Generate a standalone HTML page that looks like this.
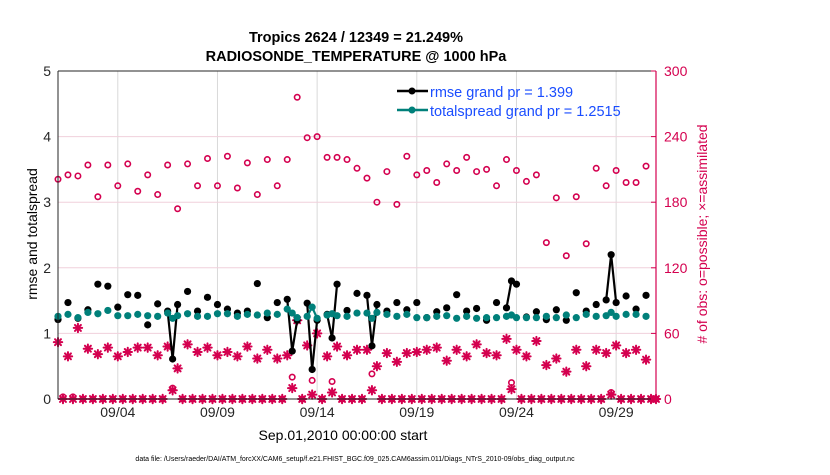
<!DOCTYPE html>
<html><head><meta charset="utf-8"><style>
body{margin:0;background:#fff;}
svg{font-family:"Liberation Sans",Arial,sans-serif;}
</style></head><body>
<svg id="chart" width="830" height="470" viewBox="0 0 830 470" xmlns="http://www.w3.org/2000/svg">
<text x="356" y="42" text-anchor="middle" font-size="14.5" font-weight="bold">Tropics 2624 / 12349 = 21.249%</text>
<text x="356" y="61" text-anchor="middle" font-size="14.5" font-weight="bold">RADIOSONDE_TEMPERATURE @ 1000 hPa</text>
<g id="grid"></g>
<g id="marks"></g>
<g id="axes"></g>
<text transform="translate(37,234) rotate(-90)" text-anchor="middle" font-size="14">rmse and totalspread</text>
<text transform="translate(707,234) rotate(-90)" text-anchor="middle" font-size="14" fill="#d4004f"># of obs: o=possible; ×=assimilated</text>
<text x="343" y="440" text-anchor="middle" font-size="14">Sep.01,2010 00:00:00 start</text>
<text x="355" y="461" text-anchor="middle" font-size="7">data file: /Users/raeder/DAI/ATM_forcXX/CAM6_setup/f.e21.FHIST_BGC.f09_025.CAM6assim.011/Diags_NTrS_2010-09/obs_diag_output.nc</text>
<g>
<line x1="397" y1="91" x2="428" y2="91" stroke="#000" stroke-width="2.5"/>
<circle cx="412" cy="91" r="3.5" fill="#000"/>
<text x="430" y="97" font-size="14.5" fill="#1a4dff">rmse grand pr = 1.399</text>
<line x1="397" y1="110" x2="428" y2="110" stroke="#00807a" stroke-width="2.5"/>
<circle cx="412" cy="110" r="3.5" fill="#00807a"/>
<text x="430" y="116" font-size="14.5" fill="#1a4dff">totalspread grand pr = 1.2515</text>
</g>
</svg>
<script>
// main analysis times (every 12h, days since Sep 01 00Z)
const mainRmse = [1.21,1.47,1.23,1.36,1.75,1.72,1.40,1.59,1.58,1.13,1.45,1.34,
 1.44,1.64,1.34,1.55,1.44,1.37,1.31,1.34,1.76,1.24,1.47,1.52,
 1.20,1.46,1.20,1.29,1.75,1.35,
 1.61,1.58,1.44,1.34,1.47,1.36,1.47,1.24,1.33,1.39,1.59,1.34,1.38,1.20,1.47,1.39,1.75,1.25,1.33,1.21,1.36,1.20,1.62,1.34,1.44,1.51,1.47,1.57,1.37,1.58];
const mainSpread = [1.26,1.29,1.24,1.32,1.30,1.35,1.27,1.27,1.29,1.27,1.26,1.31,
 1.27,1.30,1.26,1.26,1.30,1.30,1.26,1.29,1.28,1.31,1.29,1.37,
 1.24,1.26,1.23,1.28,1.27,1.26,
 1.31,1.31,1.32,1.29,1.26,1.29,1.24,1.24,1.26,1.27,1.23,1.26,1.23,1.24,1.24,1.26,1.24,1.24,1.24,1.26,1.24,1.28,1.24,1.29,1.26,1.27,1.26,1.29,1.29,1.26];
const mainPossible = [201,205,204,214,185,214,195,215,190,205,187,214,
 174,215,195,220,195,222,193,216,187,219,195,219,
 276,239,240,221,221,219,
 211,202,180,208,178,222,205,209,198,215,209,221,208,210,195,219,209,199,205,143,184,131,185,142,211,195,209,198,198,213];
const mainAssim = [52,39,65,46,41,47,39,43,47,47,40,48,
 28,50,43,47,40,43,39,48,37,45,37,40,
 72,49,60,39,48,40,
 45,45,30,42,34,42,43,45,47,35,45,39,50,42,40,55,45,39,53,31,37,25,45,30,45,42,49,42,45,36];
// off-synoptic (06Z/18Z) times with data
const extraTimes = [0.25,0.75,5.75,11.75,12.75,13.75,15.75,22.75,27.75];
const extraPossible = [2,2,10,20,17,16,23,15,6];
const extraAssim = [0,0,8,10,4,6,8,9,4];
const extraRmse = [null,null,0.61,0.73,0.45,0.93,0.81,1.80,2.20];
const extraSpread = [null,null,1.23,1.31,1.40,1.30,1.23,1.28,1.32];
const xTickDays = [3,8,13,18,23,28];
const xTickLabels = ["09/04","09/09","09/14","09/19","09/24","09/29"];
const yTicksLeft = [0,1,2,3,4,5];
const yTicksRight = [0,60,120,180,240,300];

const NS="http://www.w3.org/2000/svg";
const X0=58,X1=656,Y0=399,Y1=71;
const xs=d=>X0+(X1-X0)*d/30;
const yL=v=>Y0-(Y0-Y1)*v/5;
const yR=v=>Y0-(Y0-Y1)*v/300;
const CR="#d4004f",TE="#00807a";
function mk(tag,attrs,parent){const e=document.createElementNS(NS,tag);for(const k in attrs)e.setAttribute(k,attrs[k]);parent.appendChild(e);return e;}
const grid=document.getElementById('grid'),marks=document.getElementById('marks'),axes=document.getElementById('axes');

// build 6-hourly timeline
const pts=[];
for(let q=0;q<=120;q++){
  const t=q/4;let o={t:t,pos:0,asm:0,r:null,s:null};
  if(q%2===0 && q/2<mainRmse.length){const i=q/2;o={t:t,pos:mainPossible[i],asm:mainAssim[i],r:mainRmse[i],s:mainSpread[i]};}
  const ei=extraTimes.indexOf(t);
  if(ei>=0)o={t:t,pos:extraPossible[ei],asm:extraAssim[ei],r:extraRmse[ei],s:extraSpread[ei]};
  pts.push(o);
}

// grid
xTickDays.forEach((d,i)=>{
  const l=mk('line',{x1:xs(d),x2:xs(d),y1:Y1,y2:Y0,stroke:'#d9d9d9','stroke-width':1},grid);
  
  
});
yTicksRight.slice(1,-1).forEach(v=>{
  const l=mk('line',{x1:X0,x2:X1,y1:yR(v),y2:yR(v),stroke:'#f0d0dc','stroke-width':1},grid);
  
  
});

// obs markers
function star(cx,cy){
  const g=mk('g',{stroke:CR,'stroke-width':2,'stroke-linecap':'round'},marks);
  
  
  const r=4.2;
  for(let a=0;a<4;a++){const an=a*Math.PI/4;mk('line',{x1:cx-r*Math.cos(an),y1:cy-r*Math.sin(an),x2:cx+r*Math.cos(an),y2:cy+r*Math.sin(an)},g);}
}
pts.forEach(p=>{
  const c=mk('circle',{cx:xs(p.t),cy:yR(p.pos),r:2.7,fill:'none',stroke:CR,'stroke-width':1.6},marks);
  
  
  star(xs(p.t),yR(p.asm));
});

// series lines + markers
function series(key,color,name){
  for(let i=1;i<pts.length;i++){
    const a=pts[i-1],b=pts[i];
    if(a[key]!==null&&b[key]!==null){
      const l=mk('line',{x1:xs(a.t),y1:yL(a[key]),x2:xs(b.t),y2:yL(b[key]),stroke:color,'stroke-width':2.2},marks);
      
      
    }
  }
  pts.forEach(p=>{if(p[key]!==null){
    const c=mk('circle',{cx:xs(p.t),cy:yL(p[key]),r:3.6,fill:color},marks);
    
    
  }});
}
series('r','#000','rmse');
series('s',TE,'totalspread');

// axes
const la=mk('line',{x1:X0,x2:X0,y1:Y1,y2:Y0,stroke:'#262626','stroke-width':1},axes);


const ba=mk('line',{x1:X0,x2:X1,y1:Y0,y2:Y0,stroke:'#262626','stroke-width':1},axes);


const ta=mk('line',{x1:X0,x2:X1,y1:Y1,y2:Y1,stroke:'#262626','stroke-width':1},axes);


const ra=mk('line',{x1:X1,x2:X1,y1:Y1,y2:Y0,stroke:CR,'stroke-width':1.2},axes);


yTicksLeft.forEach(v=>{
  const t=mk('text',{x:X0-7,y:yL(v)+5,'text-anchor':'end','font-size':14,fill:'#262626'},axes);
  t.textContent=v;
  
  
});
yTicksRight.forEach(v=>{
  const tk=mk('line',{x1:X1-5,x2:X1,y1:yR(v),y2:yR(v),stroke:CR},axes);
  
  
  const t=mk('text',{x:X1+8,y:yR(v)+5,'font-size':14,fill:CR},axes);
  t.textContent=v;
  
  
});
xTickDays.forEach((d,i)=>{
  const t=mk('text',{x:xs(d),y:Y0+18,'text-anchor':'middle','font-size':14,fill:'#262626'},axes);
  t.textContent=xTickLabels[i];
  
  
});
</script>
</body></html>
